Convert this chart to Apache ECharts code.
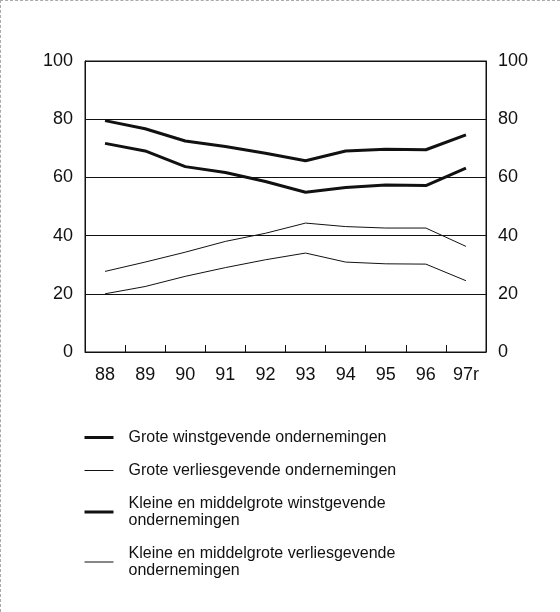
<!DOCTYPE html>
<html>
<head>
<meta charset="utf-8">
<script src="https://cdn.jsdelivr.net/npm/echarts@6/dist/echarts.min.js"></script>
<style>
  html, body { margin: 0; padding: 0; background: #fff; }
  #main { width: 560px; height: 612px; box-sizing: border-box; border-left: 1px dashed #aaa; border-top: 1px dashed #aaa; }
</style>
</head>
<body>
<div id="main"></div>
<script>
// jaren
const years = ['88', '89', '90', '91', '92', '93', '94', '95', '96', '97r']
const yTicks = [0, 20, 40, 60, 80, 100]

// reeksen (aandeel in %)
const groteWinst = [79.5, 76.7, 72.5, 70.6, 68.3, 65.7, 69.1, 69.7, 69.5, 74.6]
const groteVerlies = [27.7, 30.9, 34.3, 38.0, 40.8, 44.3, 43.1, 42.6, 42.6, 36.3]
const kmoWinst = [71.7, 69.1, 63.7, 61.7, 58.6, 54.9, 56.5, 57.4, 57.2, 63.2]
const kmoVerlies = [20.0, 22.5, 26.0, 29.0, 31.7, 34.0, 30.9, 30.3, 30.2, 24.5]

const names = [
  'Grote winstgevende ondernemingen',
  'Grote verliesgevende ondernemingen',
  'Kleine en middelgrote winstgevende\nondernemingen',
  'Kleine en middelgrote verliesgevende\nondernemingen'
]
const widths = [3, 1, 3, 1]

let myChart = echarts.init(document.getElementById('main'))

function lineSerie (name, data, width) {
  return {
    name: name,
    type: 'line',
    data: data,
    symbol: 'none',
    lineStyle: { color: '#111', width: width },
    itemStyle: { color: '#111' }
  }
}

const font = 'Liberation Sans, Arial, sans-serif'

let option = {
  animation: false,
  textStyle: { fontFamily: font },
  grid: {
    left: 84,
    right: 74,
    top: 60,
    height: 291,
    show: true,
    borderColor: '#111',
    borderWidth: 1
  },
  legend: {
    orient: 'vertical',
    left: 77,
    top: 423,
    itemWidth: 29,
    itemHeight: 10,
    itemGap: 16,
    data: names.map(function (n, i) {
      return { name: n, lineStyle: { width: widths[i], color: '#111' } }
    }),
    itemStyle: { opacity: 0 },
    textStyle: {
      color: '#111',
      fontSize: 16,
      fontFamily: font,
      lineHeight: 17,
      padding: [0, 0, 0, 10]
    }
  },
  xAxis: {
    type: 'category',
    data: years,
    boundaryGap: true,
    axisLine: { show: true, lineStyle: { color: '#111', width: 1 } },
    axisTick: { show: true, inside: true, length: 7, lineStyle: { color: '#111' } },
    axisLabel: { color: '#111', fontSize: 18, margin: 14, fontFamily: font },
    splitLine: { show: false }
  },
  yAxis: [{
    type: 'value',
    min: yTicks[0],
    max: yTicks[yTicks.length - 1],
    interval: 20,
    axisLine: { show: true, lineStyle: { color: '#111' } },
    axisTick: { show: false },
    axisLabel: { color: '#111', fontSize: 18, margin: 12, fontFamily: font },
    splitLine: { show: true, lineStyle: { color: '#111', width: 1 } }
  }, {
    type: 'value',
    position: 'right',
    min: yTicks[0],
    max: yTicks[yTicks.length - 1],
    interval: 20,
    axisLine: { show: true, lineStyle: { color: '#111' } },
    axisTick: { show: false },
    axisLabel: { color: '#111', fontSize: 18, margin: 12, fontFamily: font },
    splitLine: { show: false }
  }],
  series: [
    lineSerie(names[0], groteWinst, widths[0]),
    lineSerie(names[1], groteVerlies, widths[1]),
    lineSerie(names[2], kmoWinst, widths[2]),
    lineSerie(names[3], kmoVerlies, widths[3])
  ]
}
myChart.setOption(option, true)
</script>
</body>
</html>
